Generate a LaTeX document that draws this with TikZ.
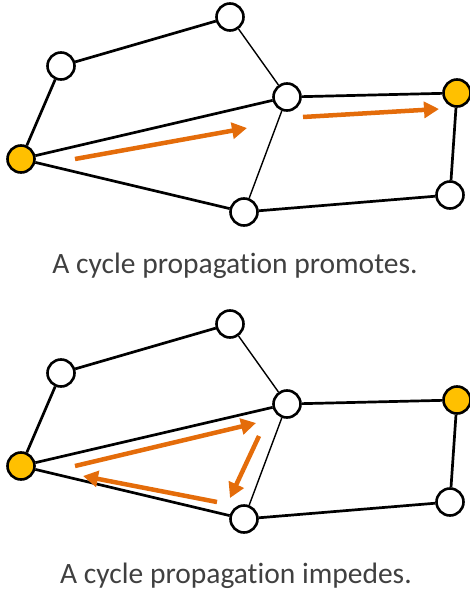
\documentclass[tikz,border=0pt]{standalone}
\usepackage{fontspec}
\setmainfont{Carlito}[Ligatures=NoCommon]
\usetikzlibrary{arrows.meta}
\definecolor{gold}{HTML}{FFC000}
\definecolor{burnt}{HTML}{E46C0A}
\tikzstyle{vertex} = [circle, draw, line width=2.6pt, fill=white,
    minimum size=27pt, inner sep=0pt]
\tikzstyle{seed} = [vertex, fill=gold]
\tikzstyle{line} = [draw, line width=2.7pt]
\tikzstyle{thin} = [draw, line width=1.4pt]
\tikzstyle{flow} = [draw=burnt, line width=4.5pt,
    -{Triangle[length=15pt, width=16pt]}]
\tikzstyle{caption} = [anchor=base, text=black!75, font=\fontsize{29.5}{34}\selectfont]

\begin{document}
\begin{tikzpicture}[x=1pt, y=-1pt]
	\useasboundingbox (0,0) rectangle (469,589);

	% promotes
	\begin{scope}
		\node [seed] (src) at (21,159) {};
		\node [vertex] (up) at (61,66) {};
		\node [vertex] (peak) at (230,17) {};
		\node [vertex] (hub) at (287,97) {};
		\node [seed] (dst) at (457,93) {};
		\node [vertex] (tail) at (450,195) {};
		\node [vertex] (foot) at (244,212) {};

		\path [line] (src) -- (up);
		\path [line] (up) -- (peak);
		\path [thin] (peak) -- (hub);
		\path [line] (src) -- (hub);
		\path [line] (src) -- (foot);
		\path [thin] (hub) -- (foot);
		\path [line] (hub) -- (dst);
		\path [line] (dst) -- (tail);
		\path [line] (tail) -- (foot);

		\coordinate (f1a) at (75,159);
		\coordinate (f1b) at (247,128);
		\coordinate (f2a) at (303,117);
		\coordinate (f2b) at (439,109);
		\path [flow] (f1a) -- (f1b);
		\path [flow] (f2a) -- (f2b);
	\end{scope}
	\node [caption] (capA) at (235,273) {A cycle propagation promotes.};

	% impedes
	\begin{scope}[yshift=-307pt]
		\node [seed] (src2) at (21,159) {};
		\node [vertex] (up2) at (61,66) {};
		\node [vertex] (peak2) at (230,17) {};
		\node [vertex] (hub2) at (287,97) {};
		\node [seed] (dst2) at (457,93) {};
		\node [vertex] (tail2) at (450,195) {};
		\node [vertex] (foot2) at (244,212) {};

		\path [line] (src2) -- (up2);
		\path [line] (up2) -- (peak2);
		\path [thin] (peak2) -- (hub2);
		\path [line] (src2) -- (hub2);
		\path [line] (src2) -- (foot2);
		\path [thin] (hub2) -- (foot2);
		\path [line] (hub2) -- (dst2);
		\path [line] (dst2) -- (tail2);
		\path [line] (tail2) -- (foot2);

		\coordinate (g1a) at (75,159);
		\coordinate (g1b) at (256,116);
		\coordinate (g2a) at (259,129);
		\coordinate (g2b) at (230,191);
		\coordinate (g3a) at (217,195);
		\coordinate (g3b) at (83,169);
		\path [flow] (g1a) -- (g1b);
		\path [flow] (g2a) -- (g2b);
		\path [flow] (g3a) -- (g3b);
	\end{scope}
	\node [caption] (capB) at (236,583) {A cycle propagation impedes.};
\end{tikzpicture}
\end{document}
